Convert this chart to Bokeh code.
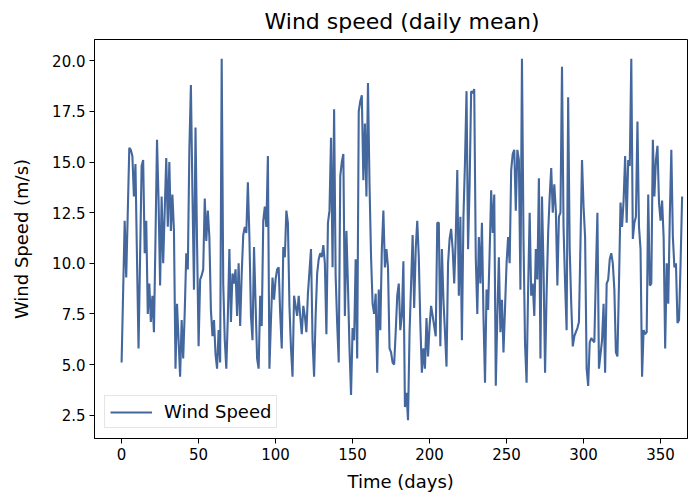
from bokeh.plotting import figure
from bokeh.models import Range1d, FixedTicker, Legend, LegendItem, NumeralTickFormatter, Title
from bokeh.embed import file_html
from bokeh.resources import INLINE

title_text = "Wind speed (daily mean)"
x_label = "Time (days)"
y_label = "Wind Speed (m/s)"
series_name = "Wind Speed"
x_ticks = [0, 50, 100, 150, 200, 250, 300, 350]
y_ticks = [2.5, 5.0, 7.5, 10.0, 12.5, 15.0, 17.5, 20.0]

# daily mean wind speed (m/s), days 0-364
wind_q1 = [5.1, 8.6, 12.1, 9.3, 12.5, 15.7, 15.6, 15.3, 13.3, 14.9,
           10.2, 5.8, 10.3, 14.8, 15.1, 10.5, 12.1, 7.5, 9.0, 7.1,
           8.4, 6.6, 11.2, 16.1, 13.1, 8.9, 13.3, 10.0, 12.6, 15.2,
           11.8, 15.0, 11.6, 13.4, 11.6, 4.8, 8.0, 6.2, 4.4, 7.2,
           5.3, 7.6, 10.5, 9.7, 15.6, 18.8, 13.5, 8.7, 16.7, 11.0,
           5.9, 9.2, 9.4, 9.7, 13.2, 11.1, 12.6, 11.3, 7.7, 6.4,
           7.2, 5.5, 4.8, 6.7, 5.1, 20.1, 9.0, 6.2, 4.8, 7.4,
           10.7, 7.1, 9.5, 9.0, 9.7, 7.4, 10.0, 6.9, 9.5, 11.4,
           11.8, 11.5, 14.0, 11.3, 7.4, 6.2, 10.8, 8.0, 5.3, 4.8]
wind_q2 = [8.4, 6.9, 12.1, 12.8, 11.8, 15.3, 4.8, 7.2, 9.3, 8.2,
           9.2, 9.7, 9.8, 7.5, 5.8, 10.8, 10.3, 12.6, 12.0, 7.9,
           5.8, 4.4, 8.4, 7.9, 7.4, 8.4, 7.4, 6.5, 7.9, 7.4,
           6.6, 8.5, 9.6, 10.7, 6.2, 4.4, 7.4, 9.5, 10.2, 10.5,
           10.3, 10.9, 10.0, 6.5, 12.0, 12.6, 16.2, 9.8, 17.6, 9.4,
           7.0, 5.1, 14.3, 15.0, 15.4, 7.4, 11.6, 8.9, 5.8, 3.5,
           6.8, 6.2, 10.2, 5.3, 17.5, 18.0, 18.3, 14.1, 16.9, 13.3,
           18.9, 13.9, 10.3, 8.0, 7.5, 8.5, 4.6, 8.7, 6.7, 10.7,
           12.6, 9.8, 10.7, 9.8, 5.8, 5.6, 5.1, 5.0, 6.6, 8.4]
wind_q3 = [9.0, 6.7, 7.4, 10.1, 2.9, 3.6, 2.25, 6.6, 9.0, 11.4,
           7.8, 10.7, 12.1, 10.3, 7.0, 4.6, 5.8, 4.8, 7.3, 5.4,
           6.9, 7.9, 7.4, 6.9, 6.4, 12.0, 12.0, 5.9, 10.7, 8.2,
           6.6, 4.9, 10.0, 11.2, 11.7, 10.7, 9.0, 11.3, 14.6, 8.4,
           12.3, 6.2, 12.3, 15.0, 18.5, 10.7, 13.9, 18.5, 18.4, 18.6,
           10.3, 7.5, 11.3, 9.0, 12.0, 7.4, 4.1, 8.7, 7.7, 10.5,
           13.6, 11.5, 13.4, 3.95, 7.4, 10.3, 6.6, 8.2, 5.6, 7.8,
           10.0, 11.3, 10.0, 14.6, 15.4, 15.6, 12.6, 15.6, 15.1, 8.7,
           20.1, 11.2, 6.0, 4.1, 8.7, 12.5, 8.4, 9.0, 7.4, 10.7]
wind_q4 = [9.2, 14.2, 5.3, 13.3, 9.8, 4.6, 8.5, 11.5, 13.3, 14.7,
           12.5, 13.9, 12.6, 8.9, 12.3, 12.5, 19.7, 11.8, 9.0, 6.7,
           18.2, 10.7, 8.0, 5.9, 6.4, 6.6, 6.8, 7.1, 11.0, 15.1,
           12.8, 11.3, 4.8, 3.95, 6.1, 6.3, 6.2, 6.1, 9.5, 12.5,
           4.8, 5.5, 6.2, 8.0, 4.6, 9.0, 9.2, 10.2, 10.5, 10.0,
           8.7, 5.6, 5.4, 9.0, 13.0, 11.8, 13.1, 15.3, 12.0, 15.1,
           14.8, 20.1, 11.2, 12.0, 12.3, 17.0, 11.8, 10.7, 4.4, 6.7,
           6.5, 6.6, 13.4, 8.9, 9.0, 16.1, 13.3, 15.1, 15.8, 13.0,
           12.1, 13.1, 11.3, 5.8, 10.0, 8.0, 12.3, 15.6, 11.3, 9.8,
           10.0, 7.05, 7.2, 10.0, 13.3]

wind_speed = wind_q1 + wind_q2 + wind_q3 + wind_q4
days = list(range(len(wind_speed)))

FONT = "DejaVu Sans"
LINE_COLOR = "#44679d"

p = figure(width=698, height=497, output_backend="svg", toolbar_location=None,
           x_range=Range1d(-17.6, 367.5), y_range=Range1d(1.35, 21.05),
           min_border_left=94, min_border_right=11, min_border_top=39,
           min_border_bottom=59, background_fill_color="white",
           border_fill_color="white", title=None)

top_title = Title(text=title_text, align="left", offset=170, standoff=12,
                  text_font=FONT, text_font_size="22px",
                  text_font_style="normal", text_color="black")
p.add_layout(top_title, "above")

r = p.line(days, wind_speed, line_color=LINE_COLOR, line_width=2.1)

p.grid.visible = False
p.outline_line_color = "black"
p.outline_line_width = 1
p.outline_line_alpha = 1

for ax in (p.xaxis[0], p.yaxis[0]):
    ax.axis_line_color = "black"
    ax.major_tick_line_color = "black"
    ax.major_tick_in = 0
    ax.major_tick_out = 5
    ax.minor_tick_line_color = None
    ax.major_label_text_font = FONT
    ax.major_label_text_font_size = "15px"
    ax.major_label_text_color = "black"
    ax.axis_label_text_font = FONT
    ax.axis_label_text_font_size = "18px"
    ax.axis_label_text_font_style = "normal"
    ax.axis_label_text_color = "black"
    ax.major_label_standoff = 4

p.xaxis.ticker = FixedTicker(ticks=x_ticks)
p.yaxis.ticker = FixedTicker(ticks=y_ticks)
p.yaxis.formatter = NumeralTickFormatter(format="0.0")
p.yaxis.axis_label = y_label
p.yaxis.axis_label_standoff = 17

bottom_title = Title(text=x_label, align="left", offset=253, standoff=12,
                     text_font=FONT, text_font_size="18px",
                     text_font_style="normal", text_color="black")
p.add_layout(bottom_title, "below")

legend = Legend(items=[LegendItem(label=series_name, renderers=[r])],
                location="bottom_left", margin=10, padding=5, spacing=0,
                glyph_width=42, glyph_height=20, label_standoff=12,
                label_text_font=FONT, label_text_font_size="18px",
                label_text_color="black",
                border_line_color="#cccccc", border_line_width=1,
                background_fill_color="white", background_fill_alpha=0.8)
p.add_layout(legend)

open("out.html", "w").write(file_html(p, INLINE))
